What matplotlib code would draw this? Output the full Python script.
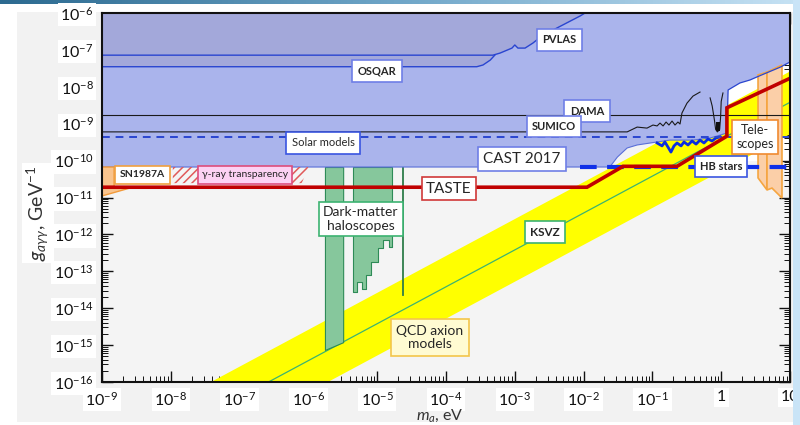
import numpy as np
import matplotlib.pyplot as plt
from matplotlib.ticker import LogLocator, FixedLocator, NullFormatter
from matplotlib.colors import LinearSegmentedColormap
from matplotlib.patches import Rectangle

plt.rcParams["font.family"] = ["Lato", "DejaVu Sans"]
plt.rcParams["mathtext.fontset"] = "custom"
plt.rcParams["mathtext.rm"] = "Lato"
plt.rcParams["mathtext.it"] = "Lato:italic"
plt.rcParams["mathtext.fallback"] = "stixsans"
plt.rcParams["hatch.linewidth"] = 1.1

# axes range: axion mass (eV) and photon coupling (GeV^-1)
m_lim = [1e-9, 10]
g_lim = [1e-16, 1e-6]

x_ticks = [1e-9, 1e-8, 1e-7, 1e-6, 1e-5, 1e-4, 1e-3, 1e-2, 1e-1, 1, 10]
x_labels = [r"$10^{-9}$", r"$10^{-8}$", r"$10^{-7}$", r"$10^{-6}$", r"$10^{-5}$",
            r"$10^{-4}$", r"$10^{-3}$", r"$10^{-2}$", r"$10^{-1}$", "1", "10"]
y_ticks = [10.0 ** k for k in range(-16, -5)]
y_labels = [r"$10^{%d}$" % k for k in range(-16, -5)]

# CAST 2017 lower edge of the helioscope exclusion
cast_m = [1e-9, 0.024, 0.031, 0.043, 0.060, 0.117, 0.18, 0.39, 0.69, 0.96, 1.21]
cast_g = [6.7e-11, 6.7e-11, 1.25e-10, 2.2e-10, 2.65e-10, 3.2e-10, 3.6e-10, 3.6e-10,
          4.1e-10, 4.9e-10, 5.6e-10]
# high-mass edge of the excluded region
edge_m = [1.21, 1.26, 1.87, 2.62, 3.31, 7.2, 10]
edge_g = [5.6e-10, 8.2e-9, 1.27e-8, 1.53e-8, 1.85e-8, 3.4e-8, 4.7e-8]

# CAST gas-phase scan (noisy segment)
scan_m = [0.117, 0.138, 0.152, 0.169, 0.186, 0.206, 0.228, 0.261, 0.288, 0.329,
          0.377, 0.431, 0.492, 0.562, 0.643, 0.735, 0.840, 0.962]
scan_g = [3.0e-10, 2.5e-10, 3.2e-10, 2.3e-10, 1.7e-10, 2.5e-10, 3.0e-10, 2.5e-10,
          3.2e-10, 2.65e-10, 3.4e-10, 2.8e-10, 3.6e-10, 3.0e-10, 3.85e-10, 3.4e-10,
          4.1e-10, 4.4e-10]

# laser experiments
osqar_m = [1e-9, 2.8e-4, 3.45e-4, 4.4e-4, 5.15e-4]
osqar_g = [3.5e-8, 3.5e-8, 3.9e-8, 5.3e-8, 7.3e-8]
pvlas_m = [1e-9, 4.8e-4, 6.1e-4, 9.1e-4, 1.0e-3, 1.11e-3, 1.41e-3, 1.84e-3, 2.17e-3,
           3.6e-3, 5.7e-3, 8.9e-3, 1.05e-2]
pvlas_g = [7.2e-8, 7.2e-8, 8.2e-8, 1.12e-7, 1.36e-7, 1.12e-7, 1.12e-7, 1.54e-7,
           1.97e-7, 3.46e-7, 5.4e-7, 8.3e-7, 1e-6]

dama_g = 1.73e-9
solar_g = 4.4e-10

sumico_m = [1e-9, 0.043, 0.060, 0.0835, 0.102, 0.117, 0.129, 0.143, 0.158, 0.174,
            0.193, 0.213, 0.235, 0.252, 0.269, 0.318, 0.389, 0.492]
sumico_g = [6e-10, 6e-10, 8.1e-10, 7.6e-10, 9.2e-10, 8.7e-10, 1.04e-9, 8.7e-10,
            1.11e-9, 9.2e-10, 1.18e-9, 9.2e-10, 1.11e-9, 9.8e-10, 1.95e-9, 3.6e-9,
            5.6e-9, 7.2e-9]
dip_m = [0.69, 0.74, 0.80, 0.83, 0.88, 0.95, 0.98, 1.0, 1.06]
dip_g = [5e-9, 3e-9, 1.2e-9, 7e-10, 6e-10, 7e-10, 1.5e-9, 4e-9, 6.8e-9]

hb_m = [8.9e-3, 10]
hb_g = 6.6e-11

taste_m = [1e-9, 0.0112, 0.0374, 0.228, 1.21, 1.21, 10]
taste_g = [1.9e-11, 1.9e-11, 7e-11, 7e-11, 4.6e-10, 2.7e-9, 1.7e-8]

# QCD axion band and KSVZ line (g proportional to m)
qcd_m = [1e-9, 10]
qcd_hi = [2.6e-18, 2.6e-8]
qcd_lo = [5.2e-20, 5.2e-10]
ksvz_g = [3.8e-19, 3.8e-9]

# haloscopes
halo1_m = [1.74e-6, 3.2e-6]
halo1_lo = [7.4e-16, 1.2e-15]
halo2_m = [4.45e-6, 5.1e-6, 6.0e-6, 6.9e-6, 8.1e-6, 1.03e-5, 1.21e-5, 1.49e-5, 1.64e-5]
halo2_lo = [2.75e-14, 5.1e-14, 3.3e-14, 7.9e-14, 1.8e-13, 4.3e-13, 7.1e-13, 4.6e-13, 4.6e-13]
halo3_m = 2.37e-5
halo3_lo = 2.3e-14
halo_top = 6.7e-11

# telescopes
tel_left_m = [3.43, 4.63, 4.63, 3.43]
tel_left_g = [2.1e-8, 2.5e-8, 1.6e-11, 3.4e-11]
tel_right_m = [4.63, 7.65, 7.65, 5.47, 4.63]
tel_right_g = [2.5e-8, 3.9e-8, 9.7e-12, 1.8e-11, 1.6e-11]

# astrophysics
sn_m = [1e-9, 1.5e-9, 1.5e-9, 2.8e-9, 1e-9]
sn_g = [6.7e-11, 6.7e-11, 1.9e-11, 1.9e-11, 1.1e-11]
gam_m = [1.07e-8, 1e-6, 8e-7, 1.07e-8]
gam_g = [6.7e-11, 6.7e-11, 2.45e-11, 2.45e-11]

lav = "#aab4ec"
lav_dark = "#a3a8da"
line_blue = "#2a45d0"

fig = plt.figure(figsize=(8, 4.25), dpi=100)
fig.patch.set_facecolor("white")
fig.patches.append(Rectangle((17 / 800, 3 / 425), 776 / 800, 410 / 425,
                             transform=fig.transFigure, fc="#f2f2f2", ec="none", zorder=-10))
fig.patches.append(Rectangle((793 / 800, 0), 7 / 800, 1, transform=fig.transFigure,
                             fc="#c9e4f7", ec="none", zorder=20))

# thin gradient bar along the top edge
bar = fig.add_axes([0, 1 - 4 / 425, 1, 4 / 425])
bar.imshow(np.linspace(0, 1, 256)[None, :], aspect="auto",
           cmap=LinearSegmentedColormap.from_list("bar", ["#2c6a90", "#6fa6c8", "#c6e2f4"]))
bar.axis("off")

ax = fig.add_axes([102 / 800, 1 - 382 / 425, 688 / 800, 369 / 425])
ax.set_facecolor("#f4f4f4")
ax.set_xscale("log")
ax.set_yscale("log")
ax.set_xlim(m_lim)
ax.set_ylim(g_lim)

# white patch above the QCD band at high mass
ax.fill_between(edge_m[1:], 1e-10, edge_g[1:], color="white", lw=0, zorder=1)

# QCD axion band and KSVZ model line
ax.fill_between(qcd_m, qcd_lo, qcd_hi, color="#ffff00", lw=0, zorder=2)
ax.plot(qcd_m, ksvz_g, color="#3cb371", lw=0.9, zorder=3)

# haloscopes
ax.fill_between(halo1_m, halo1_lo, halo_top, fc="#86c79c", ec="#2e8b57", lw=0.8, zorder=3)
ax.fill_between(halo2_m, halo2_lo, halo_top, step="post", fc="#86c79c", ec="#2e8b57",
                lw=0.8, zorder=3)
ax.plot([halo3_m, halo3_m], [halo3_lo, halo_top], color="#2e7d4a", lw=1.3, zorder=3)

# helioscope / laser exclusion
ax.fill(cast_m + edge_m[1:] + [m_lim[1], m_lim[0]],
        cast_g + edge_g[1:] + [g_lim[1], g_lim[1]], fc=lav, ec="none", zorder=4)
ax.fill(osqar_m + pvlas_m[2:] + [m_lim[0]], osqar_g + pvlas_g[2:] + [g_lim[1]],
        fc=lav_dark, ec="none", zorder=4)
ax.plot(edge_m, edge_g, color=line_blue, lw=0.9, zorder=5)
ax.plot(osqar_m, osqar_g, color=line_blue, lw=1.0, zorder=5)
ax.plot(pvlas_m, pvlas_g, color=line_blue, lw=1.0, zorder=5)
ax.plot(cast_m, cast_g, color="#5a6fd8", lw=0.8, zorder=5)
ax.plot(scan_m, scan_g, color="#0a2ee0", lw=2.0, zorder=5)

# telescopes
ax.fill(tel_left_m, tel_left_g, fc="#fbcfa8", ec="#f5a540", lw=1.2, zorder=4.5)
ax.fill(tel_right_m, tel_right_g, fc="#fbcfa8", ec="#f5a540", lw=1.2, zorder=4.5)

# other limits
ax.axhline(dama_g, color="#1a1a1a", lw=0.8, zorder=5)
ax.plot(sumico_m, sumico_g, color="#1a1a1a", lw=0.8, zorder=5)
ax.plot(dip_m, dip_g, color="#1a1a1a", lw=0.8, zorder=5)
ax.fill_between([0.84, 0.95], 6.3e-10, 1.1e-9, color="#111111", lw=0, zorder=5)
ax.axhline(solar_g, color=line_blue, lw=1.4, ls=(0, (4, 3)), zorder=5)
ax.plot(hb_m, [hb_g, hb_g], color="#1030e8", lw=3.0, ls=(0, (4, 2.5)), zorder=6)

ax.fill(sn_m, sn_g, fc="#f9c48e", ec="#f29a3a", lw=1.0, zorder=5)
ax.fill(gam_m, gam_g, fc="none", ec="#e05a5a", lw=0, hatch="////", zorder=5)

ax.plot(taste_m, taste_g, color="#c00000", lw=2.6, zorder=6, solid_joinstyle="miter")


def tag(x, y, s, ec, size=8, weight="bold", fc="white", pad=0.35, lw=1.2):
    ax.text(x, y, s, ha="center", va="center", fontsize=size, fontweight=weight,
            color="#262626", zorder=10, linespacing=1.15,
            bbox=dict(boxstyle="square,pad=%g" % pad, fc=fc, ec=ec, lw=lw))


tag(4.5e-3, 1.9e-7, "PVLAS", "#6f7fe6", pad=0.5)
tag(1.0e-5, 2.7e-8, "OSQAR", "#6f7fe6", pad=0.5)
tag(1.12e-2, 2.2e-9, "DAMA", "#6f7fe6", pad=0.5)
tag(3.7e-3, 8.4e-10, "SUMICO", "#6f7fe6", pad=0.45)
tag(1.63e-6, 3.0e-10, "Solar models", "#3a55e0", weight="normal", pad=0.5)
tag(1.27e-3, 1.1e-10, "CAST 2017", "#6f7fe6", size=11, weight="normal", pad=0.35)
tag(1.0, 6.9e-11, "HB stars", "#3a55e0", pad=0.45)
tag(3.1, 4.4e-10, "Tele-\nscopes", "#f08a30", size=9, weight="normal", pad=0.35)
tag(1.1e-4, 1.75e-11, "TASTE", "#d03838", size=11, weight="normal", pad=0.3)
tag(3.9e-9, 4.1e-11, "SN1987A", "#f0a040", size=7.5, pad=0.45)
tag(1.2e-7, 4.1e-11, "\u03b3-ray transparency", "#dd4d7d", size=7.5, weight="normal",
    fc="#fcd2f3", pad=0.4)
tag(5.8e-6, 2.6e-12, "Dark-matter\nhaloscopes", "#3cb371", size=10, weight="normal", pad=0.3)
tag(2.75e-3, 1.16e-12, "KSVZ", "#3cb371", size=8.5, pad=0.45)
tag(5.85e-5, 1.6e-15, "QCD axion\nmodels", "#f3c64a", size=10, weight="normal",
    fc="#fffbd2", pad=0.4)

# axis ticks
ax.xaxis.set_major_locator(FixedLocator(x_ticks))
ax.set_xticklabels(x_labels)
ax.yaxis.set_major_locator(FixedLocator(y_ticks))
ax.set_yticklabels(y_labels)
for axis in (ax.xaxis, ax.yaxis):
    axis.set_minor_locator(LogLocator(base=10, subs=np.arange(2, 10), numticks=100))
    axis.set_minor_formatter(NullFormatter())
ax.tick_params(which="both", direction="in", top=True, right=True, colors="#111111")
ax.tick_params(which="major", length=8, width=1.0, labelsize=11.5, pad=6)
ax.tick_params(which="minor", length=4, width=0.7)
for lab in ax.get_xticklabels() + ax.get_yticklabels():
    lab.set_bbox(dict(fc="white", ec="none", pad=2))
for side in ax.spines.values():
    side.set_linewidth(1.5)
    side.set_color("#111111")
    side.set_zorder(11)

fig.text(38 / 800, 1 - 213 / 425, r"$g_{a\gamma\gamma}$, GeV$^{-1}$", rotation=90,
         ha="center", va="center", fontsize=14, color="#333333",
         bbox=dict(fc="white", ec="none", pad=2))
fig.text(440 / 800, 1 / 425, r"$m_a$, eV", ha="center", va="bottom",
         fontsize=11.5, color="#333333")

fig.savefig("out.png", dpi=100, facecolor=fig.get_facecolor())
